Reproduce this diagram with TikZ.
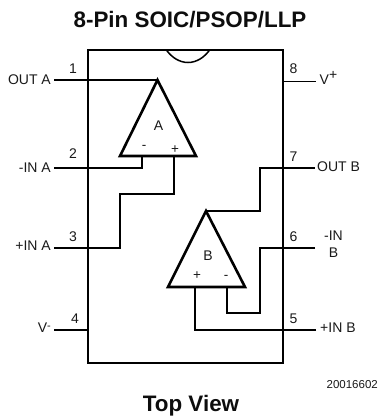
\documentclass[tikz,border=0pt]{standalone}
\usepackage{fontspec}
\setmainfont{Liberation Sans}
\tikzset{
  x=1pt,y=-1pt,
  wire/.style={line width=2.3pt,line join=miter,line cap=butt},
  chip/.style={line width=2pt,line join=miter},
  amp/.style={line width=2.6pt,line join=miter},
  lab/.style={inner sep=0pt,font=\fontsize{14}{14}\selectfont,text=black!90},
  sign/.style={inner sep=0pt,font=\fontsize{13.5}{13.5}\selectfont,text=black!90},
  head/.style={inner sep=0pt,font=\fontsize{22.4}{23}\selectfont\bfseries,text=black!95},
}
\begin{document}
\begin{tikzpicture}
\useasboundingbox (0,0) rectangle (378,418);
% chip outline with notch
\draw[chip] (166,49.5) -- (87.5,49.5) -- (87.5,362.7) -- (282.5,362.7) -- (282.5,49.5) -- (210,49.5);
\draw[chip,line width=1.5pt] (166,49.5) .. controls (172,58) and (180,62.5) .. (188,62.5) .. controls (196,62.5) and (204,58) .. (210,49.5);
\draw[chip] (166,49.5) -- (210,49.5);
% coordinates
\coordinate (p1) at (54,80);
\coordinate (p2) at (54,168);
\coordinate (p3) at (54,248);
\coordinate (p4) at (54,330);
\coordinate (p5) at (316,330);
\coordinate (p6) at (315,248);
\coordinate (p7) at (315,168);
\coordinate (p8) at (316,81.5);
\coordinate (p4i) at (87.5,330);
\coordinate (p8i) at (282.5,81.5);
\coordinate (aT) at (157.5,80);
\coordinate (aL) at (120,156);
\coordinate (aR) at (196,156);
\coordinate (aM) at (142,156);
\coordinate (aP) at (174,156);
\coordinate (bT) at (206,211);
\coordinate (bL) at (168,287);
\coordinate (bR) at (245,287);
\coordinate (bP) at (195,287);
\coordinate (bM) at (227,287);
% op amps
\draw[amp] (aT) -- (aR) -- (aL) -- cycle;
\draw[amp] (bT) -- (bR) -- (bL) -- cycle;
% wires
\draw[wire] (p1) -- (aT);
\draw[wire] (p2) -| (aM);
\draw[wire] (p3) -- (120,248) -- (120,194) -- (174,194) -- (aP);
\draw[wire] (p4) -- (p4i);
\draw[wire,line width=1.7pt] (p8i) -- (p8);
\draw[wire] (bT) -- (260,211) -- (260,168) -- (p7);
\draw[wire] (p6) -- (260,248) -- (260,313) -- (227,313) -- (bM);
\draw[wire] (p5) -| (bP);
% labels
\node[head] (title) at (190,20) {8-Pin SOIC/PSOP/LLP};
\node[head] (tv) at (191,406) {Top View};
\node[lab,anchor=east] (lA) at (51,80) {OUT A};
\node[lab,anchor=east] (lB) at (51,168) {-IN A};
\node[lab,anchor=east] (lC) at (51,246) {+IN A};
\node[lab,anchor=east] (lD) at (51,328) {V\raisebox{3pt}{\fontsize{11}{11}\selectfont -}};
\node[lab,anchor=west] (lE) at (319.5,78) {V\raisebox{4.5pt}{\fontsize{14}{14}\selectfont +}};
\node[lab,anchor=west] (lF) at (317,167) {OUT B};
\node[lab] (lG) at (333.5,246) {\begin{tabular}{@{}c@{}}-IN\\[3.5pt]B\end{tabular}};
\node[lab,anchor=west] (lH) at (320,328) {+IN B};
\node[lab] (n1) at (73,69) {1};
\node[lab] (n2) at (73,154) {2};
\node[lab] (n3) at (73,237) {3};
\node[lab] (n4) at (75,319) {4};
\node[lab] (n5) at (293.5,319) {5};
\node[lab] (n6) at (293.5,237) {6};
\node[lab] (n7) at (293.5,157) {7};
\node[lab] (n8) at (293.5,69) {8};
\node[lab] (tA) at (158.5,126) {A};
\node[lab] (tB) at (208,256) {B};
\node[sign] (s1) at (144,147) {-};
\node[sign] (s2) at (175,149.5) {+};
\node[sign] (s3) at (197,276) {+};
\node[sign] (s4) at (226,277) {-};
\node[inner sep=0pt,font=\fontsize{11.5}{12}\selectfont,text=black!90,anchor=east] (code) at (378,385) {20016602};
\end{tikzpicture}
\end{document}
